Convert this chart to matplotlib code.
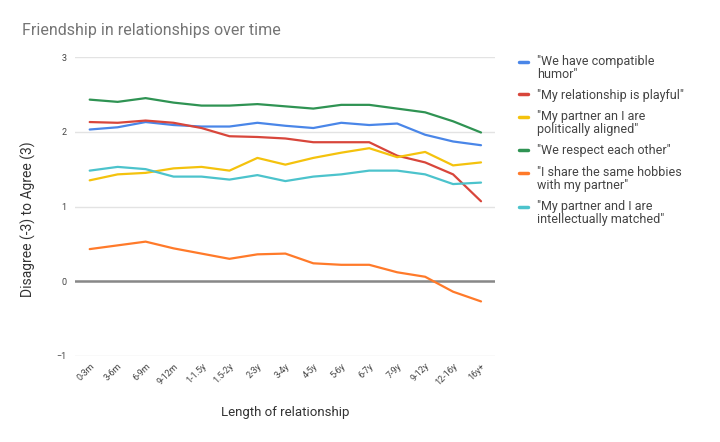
import matplotlib
matplotlib.use("Agg")
import matplotlib.pyplot as plt
from matplotlib.legend_handler import HandlerLine2D
from matplotlib.lines import Line2D

plt.rcParams['font.family'] = ['Roboto', 'DejaVu Sans']

categories = ["0-3m", "3-6m", "6-9m", "9-12m", "1-1.5y", "1.5-2y", "2-3y", "3-4y",
              "4-5y", "5-6y", "6-7y", "7-9y", "9-12y", "12-16y", "16y+"]

humor = [2.03, 2.06, 2.13, 2.09, 2.07, 2.07, 2.12, 2.08, 2.05, 2.12, 2.09, 2.11, 1.96, 1.87, 1.82]
playful = [2.13, 2.12, 2.15, 2.12, 2.05, 1.94, 1.93, 1.91, 1.86, 1.86, 1.86, 1.68, 1.59, 1.43, 1.07]
political = [1.35, 1.43, 1.45, 1.51, 1.53, 1.48, 1.65, 1.56, 1.65, 1.72, 1.78, 1.66, 1.73, 1.55, 1.59]
respect = [2.43, 2.40, 2.45, 2.39, 2.35, 2.35, 2.37, 2.34, 2.31, 2.36, 2.36, 2.31, 2.26, 2.14, 1.99]
hobbies = [0.43, 0.48, 0.53, 0.44, 0.37, 0.30, 0.36, 0.37, 0.24, 0.22, 0.22, 0.12, 0.06, -0.14, -0.27]
intellect = [1.48, 1.53, 1.50, 1.40, 1.40, 1.36, 1.42, 1.34, 1.40, 1.43, 1.48, 1.48, 1.43, 1.30, 1.32]

series = [
    ('"We have compatible\nhumor"', humor, '#4a86e8'),
    ('"My relationship is playful"', playful, '#d8463b'),
    ('"My partner an I are\npolitically aligned"', political, '#f4c20d'),
    ('"We respect each other"', respect, '#2f9353'),
    ('"I share the same hobbies\nwith my partner"', hobbies, '#ff7a2a'),
    ('"My partner and I are\nintellectually matched"', intellect, '#4cc3cc'),
]


class TopHandler(HandlerLine2D):
    def __init__(self, shift, **kw):
        super().__init__(**kw)
        self.shift = shift

    def create_artists(self, legend, orig_handle, xdescent, ydescent, width,
                       height, fontsize, trans):
        arts = super().create_artists(legend, orig_handle, xdescent, ydescent,
                                      width, height, fontsize, trans)
        for a in arts:
            if isinstance(a, Line2D):
                a.set_ydata([y + self.shift for y in a.get_ydata()])
        return arts


fig = plt.figure(figsize=(7.2, 4.42), dpi=100)
ax = fig.add_axes([0.104, 0.1946, 0.5835, 0.6764])

x = list(range(len(categories)))
handles = []
for label, vals, color in series:
    ln, = ax.plot(x, vals, color=color, lw=1.6, label=label, solid_capstyle='round')
    handles.append(ln)

ax.set_xlim(-0.53, 14.5)
ax.set_ylim(-1, 3)
ax.set_yticks([-1, 0, 1, 2, 3])
ax.grid(axis='y', color='#e3e3e3', lw=1)
ax.axhline(0, color='#888888', lw=1.8, zorder=1)
ax.set_axisbelow(True)
for s in ax.spines.values():
    s.set_visible(False)
ax.tick_params(length=0, labelsize=6.5, labelcolor='#444444')
ax.tick_params(axis='y', pad=6)
ax.set_xticks(x)
ax.set_xticklabels(categories, rotation=45, ha='right', rotation_mode='anchor')
ax.tick_params(axis='x', pad=4)

ax.set_xlabel('Length of relationship', fontsize=9.5, color='#333333', labelpad=14)
ax.set_ylabel('Disagree (-3) to Agree (3)', fontsize=10, color='#333333')
ax.yaxis.set_label_coords(-0.093, 0.458)

fig.text(22/720, 1 - 30/442, 'Friendship in relationships over time', fontsize=11.5,
         color='#757575', va='center', ha='left')

hmap = {}
for (label, _, _), h in zip(series, handles):
    nl = label.count('\n')
    hmap[h] = TopHandler(shift=4.8 * nl)

leg = ax.legend(handles=handles, loc='upper left', bbox_to_anchor=(1.045, 1.025),
                frameon=False, fontsize=9, handlelength=0.72, handletextpad=0.72,
                labelspacing=0.66, borderaxespad=0, handler_map=hmap)
for t in leg.get_texts():
    t.set_color('#444444')
    t.set_linespacing(1.0)
for h in leg.get_lines():
    h.set_linewidth(2.5)

fig.savefig('out.png', dpi=100)
